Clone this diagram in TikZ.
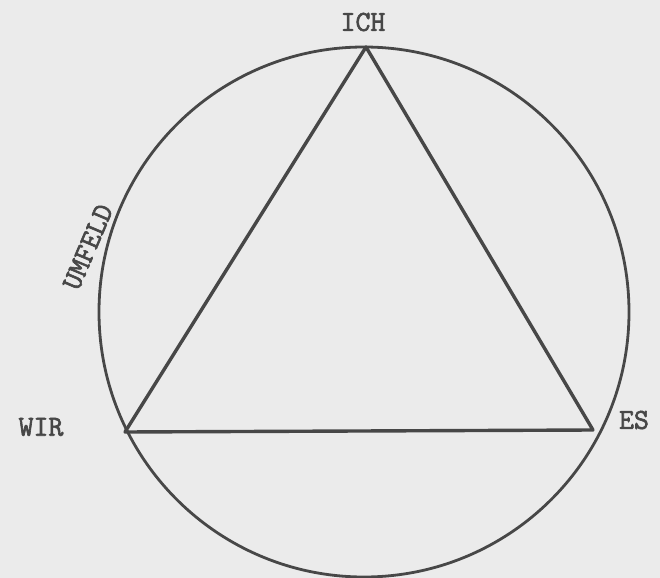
\documentclass[tikz,border=0pt]{standalone}
\usepackage{fontspec}
\newfontfamily\schreibfont[FakeBold=2.2]{Latin Modern Mono}
\begin{document}
\begin{tikzpicture}[
                x=0.5pt, y=-0.5pt,
                % Estilos
                umfeld line/.style={
                    draw=black!72,
                    line width=1.4pt
                },
                seite line/.style={
                    draw=black!72,
                    line width=1.7pt,
                    line join=round
                },
                ecke label/.style={
                    font=\schreibfont\fontsize{14.5}{16}\selectfont,
                    text=black!72,
                    inner sep=0pt
                }
            ]

                % --- HINTERGRUND ---
                \fill[black!8] (0,0) rectangle (660,578);
                \useasboundingbox (0,0) rectangle (660,578);

                % --- KREIS (UMFELD) ---
                \def\xM{364}
                \def\yM{312}
                \def\rK{265}
                \draw[umfeld line] (\xM,\yM) circle (\rK);

                % --- ECKEN DES DREIECKS ---
                \coordinate (ich) at (366,47);
                \coordinate (wir) at (125,432);
                \coordinate (es) at (593,430);

                \draw[seite line] (ich) -- (wir) -- (es) -- cycle;

                % --- BESCHRIFTUNGEN ---
                \node[ecke label] (ichlabel) at (363,22) {ICH};
                \node[ecke label] (wirlabel) at (41,427) {WIR};
                \node[ecke label] (eslabel) at (634,420) {ES};
                \node[ecke label, rotate=67] (umfeldlabel) at (88,247) {UMFELD};

            \end{tikzpicture}
\end{document}
